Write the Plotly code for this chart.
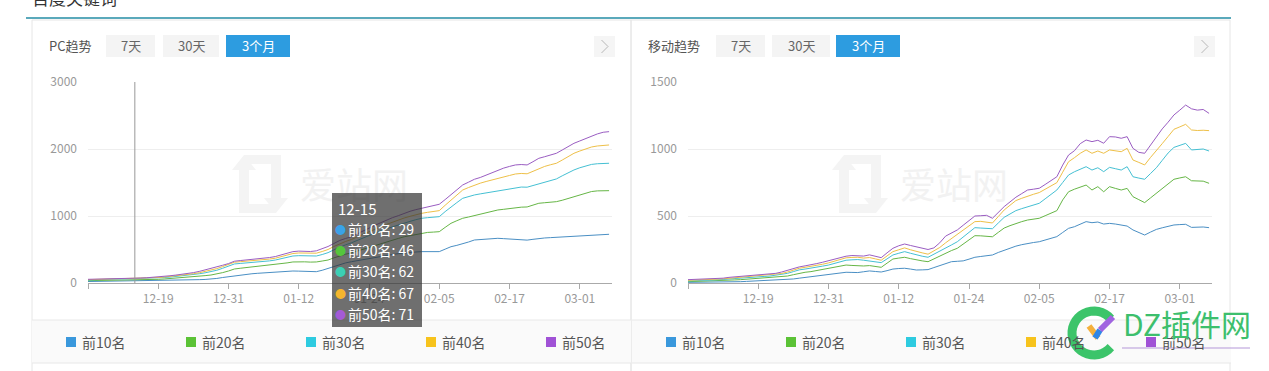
import plotly.graph_objects as go
import pandas as pd
import numpy as np

W, H = 1269, 371
FONT = "Noto Sans CJK SC, Noto Sans, sans-serif"

# ---------------- data ----------------
dates = list(pd.date_range("2016-12-07", periods=90).strftime("%m-%d"))
series_names = ["前10名", "前20名", "前30名", "前40名", "前50名"]
line_colors = ["#4a8fc4", "#66b646", "#45c0d3", "#eec048", "#9a5dc2"]
legend_colors = ["#3a98dc", "#5bc236", "#2ecbe0", "#f7c31c", "#a052d6"]
tooltip_colors = ["#3aa2e8", "#55c63c", "#3ccfb4", "#f5b52e", "#a45ad6"]
tick_dates = ["12-19", "12-31", "01-12", "01-24", "02-05", "02-17", "03-01"]
pc_yticks = [0, 1000, 2000, 3000]
m_yticks = [0, 500, 1000, 1500]
tooltip_date = "12-15"

pc_top10 = [22, 23, 24, 25, 26, 27, 28, 28, 29, 30,
            32, 33, 35, 37, 39, 41, 43, 45, 47, 50,
            53, 58, 68, 82, 95, 110, 120, 130, 138, 145,
            152, 160, 169, 175, 178, 179, 177, 172, 168, 169,
            190, 219, 250, 280, 300, 318, 335, 352, 368, 385,
            400, 412, 425, 438, 450, 458, 463, 468, 470, 468,
            468, 505, 542, 562, 582, 612, 642, 650, 658, 662,
            667, 662, 656, 652, 646, 640, 652, 667, 672, 677,
            682, 688, 695, 702, 707, 712, 717, 720, 724, 727]
pc_top20 = [35, 36, 37, 38, 40, 41, 42, 44, 46, 48,
            50, 52, 55, 60, 66, 72, 78, 85, 92, 100,
            110, 119, 135, 155, 179, 209, 220, 230, 238, 244,
            252, 260, 269, 285, 300, 314, 318, 316, 312, 314,
            328, 343, 375, 405, 430, 450, 478, 505, 530, 555,
            580, 610, 638, 665, 690, 705, 722, 742, 755, 760,
            766, 830, 891, 930, 966, 985, 1005, 1030, 1055, 1072,
            1090, 1100, 1112, 1125, 1132, 1135, 1160, 1190, 1198, 1206,
            1214, 1235, 1262, 1289, 1310, 1335, 1365, 1375, 1380, 1378]
pc_top30 = [45, 47, 49, 51, 53, 55, 57, 59, 62, 64,
            67, 71, 75, 81, 88, 96, 105, 115, 126, 138,
            152, 169, 190, 220, 254, 284, 292, 298, 304, 309,
            318, 330, 343, 365, 385, 403, 408, 405, 400, 403,
            425, 453, 495, 535, 570, 600, 638, 675, 710, 745,
            780, 810, 840, 870, 900, 920, 945, 966, 975, 982,
            990, 1065, 1139, 1200, 1264, 1290, 1314, 1330, 1345, 1360,
            1378, 1395, 1412, 1428, 1432, 1430, 1455, 1488, 1510, 1532,
            1553, 1600, 1645, 1687, 1720, 1745, 1770, 1780, 1785, 1787]
pc_top40 = [50, 52, 54, 56, 58, 60, 62, 64, 67, 70,
            73, 77, 82, 89, 97, 106, 115, 125, 138, 153,
            170, 190, 215, 245, 275, 310, 318, 324, 330, 335,
            345, 357, 370, 395, 420, 440, 448, 446, 442, 445,
            470, 500, 545, 585, 620, 650, 690, 730, 770, 805,
            840, 875, 910, 940, 970, 995, 1020, 1040, 1055, 1068,
            1080, 1160, 1239, 1315, 1388, 1425, 1463, 1490, 1515, 1540,
            1563, 1585, 1605, 1627, 1635, 1630, 1670, 1712, 1740, 1765,
            1787, 1835, 1885, 1936, 1970, 2000, 2030, 2045, 2055, 2060]
pc_top50 = [55, 56, 58, 60, 62, 64, 66, 68, 71, 74,
            78, 83, 90, 98, 108, 118, 128, 140, 155, 173,
            194, 215, 240, 265, 290, 325, 335, 342, 349, 355,
            366, 380, 395, 420, 445, 468, 476, 474, 470, 480,
            510, 545, 590, 635, 665, 690, 735, 780, 820, 860,
            900, 940, 975, 1005, 1040, 1070, 1095, 1115, 1130, 1150,
            1175, 1245, 1314, 1390, 1463, 1505, 1548, 1575, 1610, 1650,
            1687, 1715, 1740, 1762, 1768, 1762, 1810, 1861, 1885, 1910,
            1936, 1985, 2035, 2085, 2120, 2155, 2195, 2225, 2250, 2259]

m_top10 = [5, 5, 6, 6, 6, 7, 7, 7, 9, 10,
           12, 14, 17, 20, 22, 23, 24, 25, 30, 36,
           42, 47, 54, 60, 67, 72, 76, 80, 79, 78,
           84, 90, 86, 82, 92, 104, 108, 110, 104, 97,
           98, 100, 115, 130, 145, 159, 162, 165, 178, 192,
           198, 204, 209, 228, 245, 260, 275, 286, 296, 302,
           308, 320, 333, 346, 377, 408, 420, 440, 458, 450,
           455, 440, 445, 440, 433, 425, 396, 377, 358, 380,
           400, 412, 425, 433, 436, 438, 415, 416, 418, 413]
m_top20 = [10, 11, 12, 13, 14, 15, 17, 20, 23, 25,
           28, 31, 34, 37, 40, 43, 47, 52, 62, 73,
           80, 85, 93, 102, 110, 118, 126, 134, 131, 128,
           127, 130, 123, 117, 148, 179, 186, 192, 182, 172,
           165, 159, 180, 200, 225, 242, 259, 290, 322, 353,
           352, 351, 345, 378, 410, 428, 445, 458, 470, 477,
           483, 502, 521, 540, 620, 681, 700, 715, 731, 694,
           719, 681, 719, 706, 694, 706, 644, 622, 600, 635,
           669, 705, 740, 774, 784, 793, 763, 760, 760, 744]
m_top30 = [15, 16, 17, 19, 21, 23, 26, 30, 34, 37,
           40, 43, 46, 49, 52, 57, 63, 72, 85, 98,
           104, 110, 118, 126, 134, 146, 158, 170, 173, 175,
           170, 165, 158, 152, 180, 209, 222, 234, 222, 209,
           200, 192, 214, 235, 260, 284, 308, 343, 378, 413,
           410, 407, 405, 448, 490, 515, 540, 555, 570, 583,
           595, 628, 661, 694, 750, 806, 830, 850, 868, 843,
           860, 831, 863, 853, 843, 868, 793, 783, 774, 817,
           860, 915, 970, 1012, 1027, 1042, 993, 996, 1000, 985]
m_top40 = [20, 21, 22, 24, 26, 28, 31, 35, 39, 43,
           47, 50, 53, 56, 59, 64, 71, 82, 96, 110,
           117, 123, 131, 140, 150, 163, 176, 188, 191, 192,
           186, 190, 180, 170, 202, 234, 248, 262, 248, 235,
           225, 215, 240, 265, 300, 332, 358, 392, 425, 458,
           460, 455, 448, 496, 545, 580, 615, 632, 649, 662,
           675, 700, 725, 749, 827, 905, 935, 968, 993, 968,
           985, 968, 993, 985, 980, 1005, 918, 900, 881, 937,
           993, 1040, 1093, 1147, 1165, 1184, 1142, 1138, 1140, 1137]
m_top50 = [25, 26, 27, 28, 30, 32, 36, 42, 46, 50,
           55, 58, 61, 64, 67, 72, 82, 95, 108, 120,
           128, 134, 145, 155, 166, 180, 192, 200, 205, 204,
           201, 210, 200, 189, 225, 259, 278, 291, 280, 271,
           260, 250, 262, 300, 350, 373, 396, 431, 466, 500,
           502, 505, 483, 527, 570, 605, 640, 667, 694, 700,
           707, 735, 765, 793, 880, 955, 987, 1040, 1067, 1055,
           1065, 1043, 1092, 1090, 1080, 1092, 1005, 975, 968, 1030,
           1090, 1150, 1200, 1254, 1290, 1328, 1300, 1290, 1295, 1266]

pc_series = [pc_top10, pc_top20, pc_top30, pc_top40, pc_top50]
m_series = [m_top10, m_top20, m_top30, m_top40, m_top50]

# ---------------- helpers (pixel -> paper) ----------------
def fx(x):
    return x / W

def fy(y):
    return 1 - y / H

def rect(x0, y0, x1, y1, fill=None, line=None, lw=1, layer="below"):
    d = dict(type="rect", xref="paper", yref="paper",
             x0=fx(x0), x1=fx(x1), y0=fy(y1), y1=fy(y0), layer=layer,
             line=dict(width=lw if line else 0, color=line or "rgba(0,0,0,0)"))
    if fill:
        d["fillcolor"] = fill
    return d

def hline(x0, x1, y, color, lw=1, layer="below"):
    return dict(type="line", xref="paper", yref="paper", x0=fx(x0), x1=fx(x1),
                y0=fy(y), y1=fy(y), line=dict(color=color, width=lw), layer=layer)

def poly(pts, fill=None, line=None, lw=0, layer="below", closed=True):
    p = "M " + " L ".join(f"{fx(a):.5f},{fy(b):.5f}" for a, b in pts)
    if closed:
        p += " Z"
    d = dict(type="path", xref="paper", yref="paper", path=p, layer=layer,
             line=dict(width=lw, color=line or "rgba(0,0,0,0)"))
    if fill:
        d["fillcolor"] = fill
    return d

def text(x, y, s, size=13, color="#555", xanchor="left", yanchor="middle", family=FONT):
    return dict(x=fx(x), y=fy(y), xref="paper", yref="paper", text=s, showarrow=False,
                xanchor=xanchor, yanchor=yanchor, font=dict(size=size, color=color, family=family))

fig = go.Figure()

# ---------------- traces ----------------
for panel, series in enumerate([pc_series, m_series]):
    xa = "x" if panel == 0 else "x2"
    ya = "y" if panel == 0 else "y2"
    for name, vals, col in zip(series_names, series, line_colors):
        fig.add_trace(go.Scatter(x=dates, y=vals, mode="lines", name=name,
                                 line=dict(color=col, width=1),
                                 xaxis=xa, yaxis=ya, showlegend=False, hoverinfo="skip"))

shapes = []
anns = []

# page structure
anns.append(text(30, -2, "百度关键词", size=17, color="#333"))
shapes.append(hline(26, 1231, 18, "#5aa9bb", lw=2))
shapes.append(rect(32, 20, 631, 400, line="#e6e6e6"))
shapes.append(rect(631, 20, 1230, 400, line="#e6e6e6"))

panel_titles = ["PC趋势", "移动趋势"]
buttons = [[(106, 155, "7天"), (163, 219, "30天"), (226, 290, "3个月")],
           [(716, 765, "7天"), (772, 830, "30天"), (836, 900, "3个月")]]
for p, off in enumerate([0, 600]):
    # header
    anns.append(text(47 + off - p, 46, panel_titles[p], size=13, color="#555"))
    for i, (a, b, s) in enumerate(buttons[p]):
        active = i == 2
        shapes.append(rect(a, 35, b, 57, fill="#2d9ce0" if active else "#f4f4f4"))
        anns.append(text((a + b) / 2, 46, s, size=13,
                         color="#ffffff" if active else "#666", xanchor="center"))
    shapes.append(rect(594 + off, 36, 615 + off, 57, fill="#f5f5f5"))
    shapes.append(poly([(601.5 + off, 40), (608 + off, 46.5), (601.5 + off, 53)],
                       line="#b8b8b8", lw=1, closed=False))

    # legend band
    shapes.append(rect(32 + off, 320, 631 + off, 363, fill="#fafafa"))
    shapes.append(hline(32 + off, 631 + off, 320, "#e8e8e8"))
    shapes.append(hline(32 + off, 631 + off, 363, "#e8e8e8"))
    for k, (name, col) in enumerate(zip(series_names, legend_colors)):
        x0 = 66 + 120 * k + off
        shapes.append(rect(x0, 337, x0 + 10, 347, fill=col))
        anns.append(text(x0 + 14, 342, name, size=14, color="#555"))

    # watermark 爱站网
    wx = 232 + off
    logo_l = [(wx + 12, 155), (wx, 170), (wx + 7, 170), (wx + 7, 213), (wx + 44, 213),
              (wx + 44, 204), (wx + 17, 204), (wx + 17, 170), (wx + 24, 170)]
    logo_r = [(wx + 44, 213), (wx + 56, 198), (wx + 49, 198), (wx + 49, 155), (wx + 12, 155),
              (wx + 12, 164), (wx + 39, 164), (wx + 39, 198), (wx + 32, 198)]
    shapes.append(poly(logo_l, fill="#f4f4f4"))
    shapes.append(poly(logo_r, fill="#f4f4f4"))
    anns.append(text(wx + 66, 183, "爱站网", size=36, color="#f2f2f2"))

# hover pointer line + tooltip (PC chart)
ti = dates.index(tooltip_date)
shapes.append(dict(type="line", xref="x", yref="y", x0=tooltip_date, x1=tooltip_date,
                   y0=0, y1=3000, line=dict(color="#999", width=1), layer="above"))

# tooltip box drawn as an annotation background so it covers the watermark text
anns.append(dict(x=fx(332), y=fy(193), xref="paper", yref="paper", text=" ", showarrow=False,
                 xanchor="left", yanchor="top", width=90, height=134, borderpad=0,
                 bgcolor="rgba(50,50,50,0.7)", borderwidth=0,
                 font=dict(size=12, color="#fff", family=FONT)))
anns.append(text(336, 208, tooltip_date, size=15, color="#ffffff"))
for k, (name, col, vals) in enumerate(zip(series_names, tooltip_colors, pc_series)):
    yy = 229 + 21.2 * k
    anns.append(text(340, yy, "●", size=11, color=col, xanchor="center"))
    anns.append(text(346, yy, f"{name}: {vals[ti]}", size=14, color="#ffffff"))

# DZ插件网 overlay watermark
cx, cy, r = 1094, 333, 22
arc = [(cx + r * np.cos(t), cy + r * np.sin(t)) for t in np.linspace(np.radians(40), np.radians(320), 30)]
shapes.append(poly(arc, line="#3cc46a", lw=9, layer="above", closed=False))
shapes.append(poly([(1089, 326), (1098, 338)], line="#f4b03c", lw=6, layer="above", closed=False))
shapes.append(poly([(1095, 338), (1100, 330)], line="#2f86e6", lw=6, layer="above", closed=False))
shapes.append(poly([(1100, 330), (1113, 317)], line="#a064e0", lw=6, layer="above", closed=False))
anns.append(text(1121, 323, "DZ插件网", size=30, color="#3dbf6d"))
shapes.append(hline(1122, 1250, 348, "#b497d8", lw=1, layer="above"))

axis_common = dict(type="category", range=[0, 89.5], showgrid=False, zeroline=False,
                   showline=True, linecolor="#aaaaaa", ticks="outside", ticklen=5,
                   tickcolor="#aaaaaa", tickvals=[dates[0]] + tick_dates,
                   ticktext=[""] + tick_dates, tickfont=dict(size=12, color="#999", family=FONT),
                   fixedrange=True, automargin=False)
yaxis_common = dict(showgrid=True, gridcolor="#eeeeee", zeroline=False, showline=False,
                    ticks="", tickfont=dict(size=12, color="#999", family=FONT),
                    ticklabelstandoff=10, domain=[fy(283), fy(82)], fixedrange=True,
                    automargin=False)

fig.update_layout(
    width=W, height=H, margin=dict(l=0, r=0, t=0, b=0, pad=0), autosize=False,
    paper_bgcolor="#ffffff", plot_bgcolor="rgba(0,0,0,0)",
    font=dict(family=FONT),
    xaxis=dict(axis_common, domain=[fx(88), fx(612)], anchor="y"),
    yaxis=dict(yaxis_common, range=[0, 3000], tickvals=pc_yticks, anchor="x"),
    xaxis2=dict(axis_common, domain=[fx(688), fx(1212)], anchor="y2"),
    yaxis2=dict(yaxis_common, range=[0, 1500], tickvals=m_yticks, anchor="x2"),
    shapes=shapes, annotations=anns, showlegend=False,
)

fig.write_html("out.html", config={"responsive": False, "displayModeBar": False},
               post_script="document.body.style.margin='0';document.body.style.overflow='hidden';")
